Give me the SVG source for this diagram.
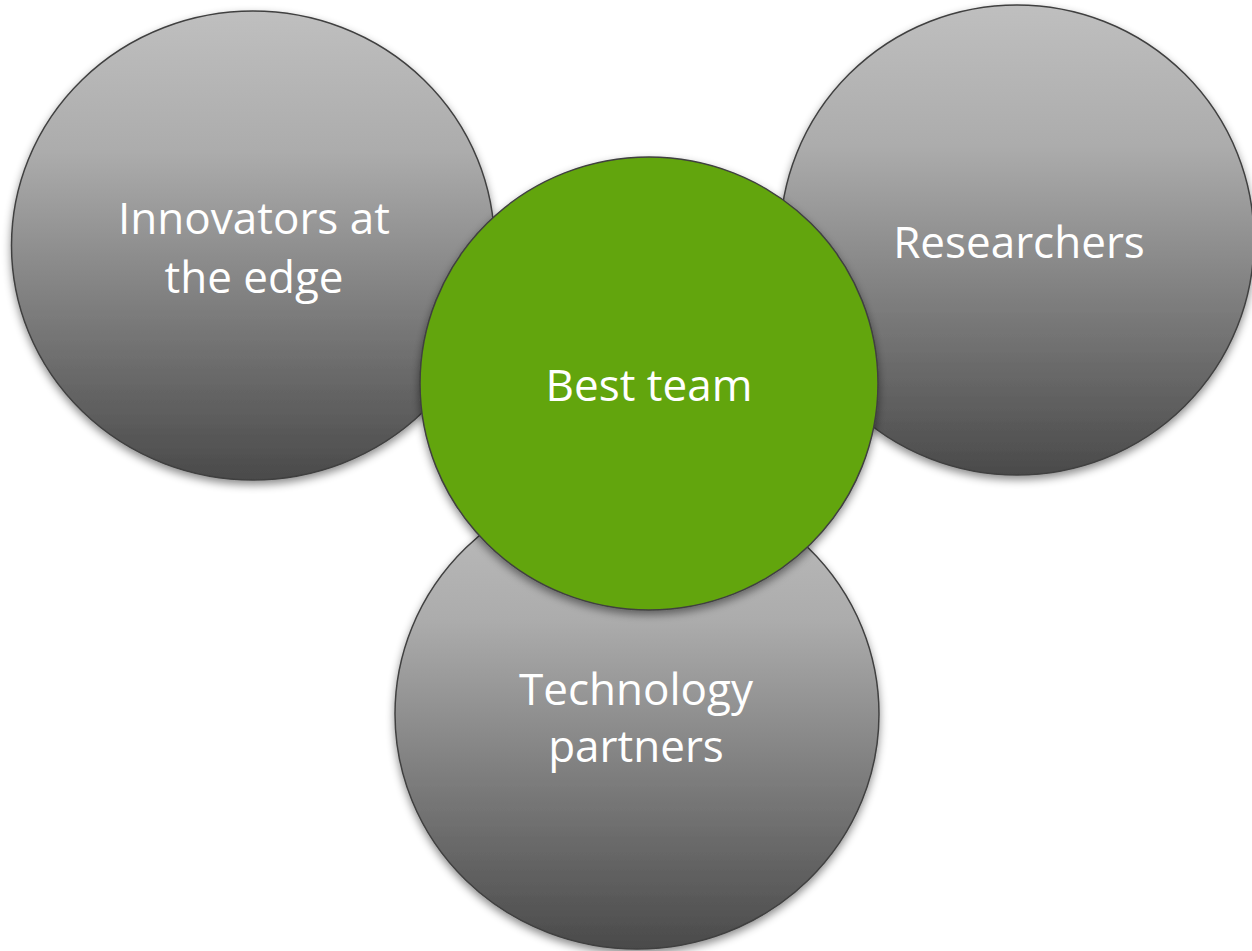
<svg xmlns="http://www.w3.org/2000/svg" width="1252" height="951" viewBox="0 0 1252 951">
<defs>
<linearGradient id="gray" x1="0" y1="0" x2="0" y2="1">
<stop offset="0" stop-color="#bfbfbf"/>
<stop offset="0.3" stop-color="#acacac"/>
<stop offset="1" stop-color="#4a4a4a"/>
</linearGradient>
<filter id="sh" x="-10%" y="-10%" width="120%" height="125%">
<feDropShadow dx="0" dy="4" stdDeviation="4" flood-color="#000" flood-opacity="0.45"/>
</filter>
</defs>
<style>
.g{fill:url(#gray);stroke:#404040;stroke-width:1.5;filter:url(#sh)}
.c{fill:#62a50c;stroke:#404040;stroke-width:1.5;filter:url(#sh)}
.t{font-family:"Open Sans","Noto Sans",sans-serif;font-size:44px;fill:#ffffff;text-anchor:middle}
</style>
<rect width="1252" height="951" fill="#ffffff"/>
<g id="innovators">
<ellipse class="g" cx="253" cy="245.5" rx="241.5" ry="234.5"/>
<text class="t" x="254" y="234">Innovators at</text>
<text class="t" x="254" y="293">the edge</text>
</g>
<g id="researchers">
<ellipse class="g" cx="1017" cy="240" rx="237" ry="235"/>
<text class="t" x="1019" y="258">Researchers</text>
</g>
<g id="technology">
<ellipse class="g" cx="637" cy="714" rx="242" ry="235"/>
<text class="t" x="636" y="705">Technology</text>
<text class="t" x="636" y="762">partners</text>
</g>
<g id="best-team">
<ellipse class="c" cx="649" cy="383.5" rx="229" ry="226.5"/>
<text class="t" x="649" y="401">Best team</text>
</g>
<g id="connectors"/>
</svg>
